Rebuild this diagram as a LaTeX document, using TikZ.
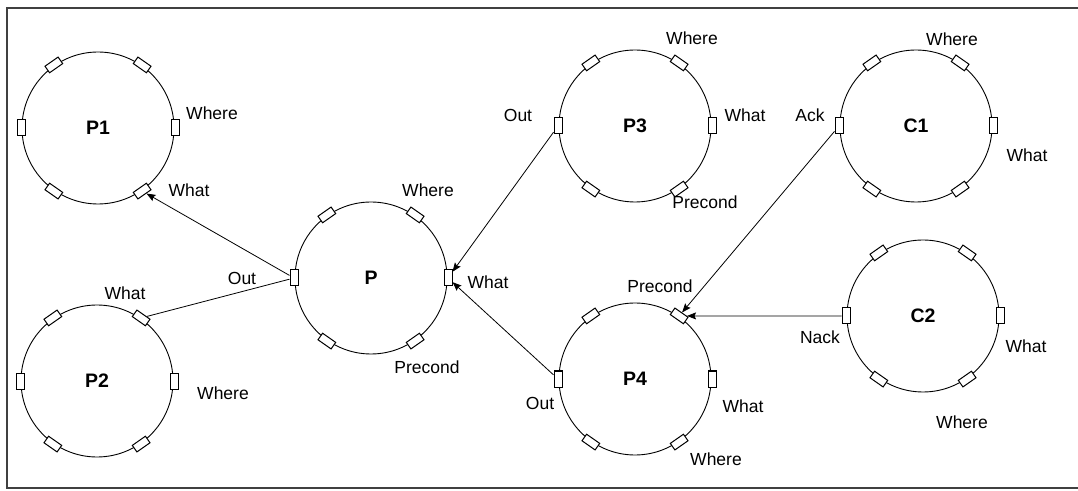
\documentclass[tikz,border=0pt]{standalone}
\usepackage{fontspec}
\setmainfont{Liberation Sans}
\usetikzlibrary{arrows.meta}
\tikzset{
  x=1pt,y=1pt,
  circ/.style={circle,draw,line width=0.9pt,minimum size=152pt,inner sep=0pt,font=\fontsize{19.5}{22}\selectfont\bfseries},
  port/.style={rectangle,draw,line width=1pt,fill=white,minimum width=16pt,minimum height=8pt,inner sep=0pt},
  lab/.style={font=\fontsize{17.5}{20}\selectfont,inner sep=0pt},
  arr/.style={line width=0.8pt,-{Stealth[length=9pt,width=7pt,inset=1.5pt]}},
  conn/.style={line width=0.8pt}
}
\newcommand\procnode[4]{%
  \node[circ] (#1) at (#2,#3) {#4};
  \foreach \a/\n in {0/e,55/ne,125/nw,180/w,235/sw,305/se}
    \node[port,rotate=\a+90] (#1-\n) at ([shift={(\a:77)}]#2,#3) {};
}
\begin{document}
\begin{tikzpicture}
\useasboundingbox (0,0) rectangle (1078,490);
\draw[line width=1.4pt,black!75] (1078,482) -- (7,482) -- (7,2) -- (1078,2);

\procnode{P1}{98}{362}{P1}
\procnode{P2}{97}{109}{P2}
\procnode{P}{371}{212}{P}
\procnode{P3}{635}{364}{P3}
\procnode{P4}{635}{111}{P4}
\procnode{C1}{916}{364}{C1}
\procnode{C2}{923}{174}{C2}

\draw[arr] (P-w) -- (P1-se);
\draw[conn] (P-w) -- (P2-ne);
\draw[arr] (P3-w) -- (P-e);
\draw[arr] (P4-w) -- (P-e);
\draw[arr] (C1-w) -- (P4-ne);
\draw[arr] (C2-w) -- (P4-ne);

\node[lab] (l1) at (212,377) {Where};
\node[lab] (l2) at (189,300) {What};
\node[lab] (l3) at (125,197) {What};
\node[lab] (l4) at (223,97) {Where};
\node[lab] (l5) at (242,212) {Out};
\node[lab] (l6) at (428,300) {Where};
\node[lab] (l7) at (488,208) {What};
\node[lab] (l8) at (427,123) {Precond};
\node[lab] (l9) at (692,452) {Where};
\node[lab] (l10) at (745,375) {What};
\node[lab] (l11) at (518,375) {Out};
\node[lab] (l12) at (705,288) {Precond};
\node[lab] (l13) at (660,204) {Precond};
\node[lab] (l14) at (540,87) {Out};
\node[lab] (l15) at (743,84) {What};
\node[lab] (l16) at (716,31) {Where};
\node[lab] (l17) at (952,451) {Where};
\node[lab] (l18) at (810,375) {Ack};
\node[lab] (l19) at (1027,335) {What};
\node[lab] (l20) at (820,153) {Nack};
\node[lab] (l21) at (1026,144) {What};
\node[lab] (l22) at (962,68) {Where};
\end{tikzpicture}
\end{document}
